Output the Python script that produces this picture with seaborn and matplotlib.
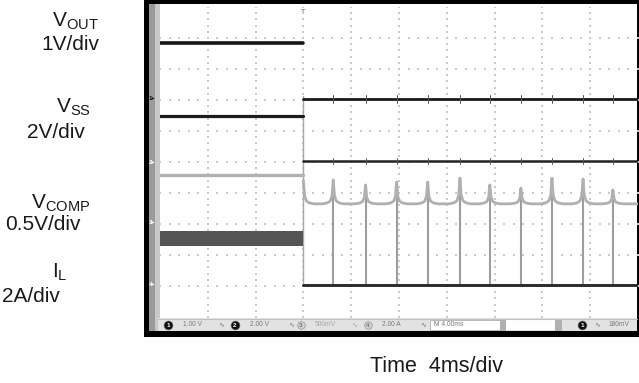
import numpy as np
import pandas as pd
import matplotlib
matplotlib.use("Agg")
import matplotlib.pyplot as plt
import seaborn as sns
from matplotlib.patches import Rectangle

# ---------------- data (screen divisions, time in ms) ----------------
ms_per_div = 4
n_hdiv = 10
n_vdiv = 10
t_fault = 12.0                      # moment the converter shuts down
spike_times = [14.5, 17.2, 19.8, 22.4, 25.1, 27.6, 30.2, 32.8, 35.4, 37.9]
spike_peaks = [4.42, 4.26, 4.35, 4.35, 4.48, 4.26, 4.16, 4.48, 4.45, 4.10]
vout_levels = [8.84, 7.03]          # before / after fault
vss_levels = [6.48, 5.03]
vcomp_levels = [4.58, 3.65]
vcomp_start_peak = 4.40
il_band = [2.29, 2.77]              # switching current band before fault
il_after = 1.03
cusp_offsets = [-0.9, -0.5, -0.25, -0.1, 0.0, 0.1, 0.25, 0.5, 0.9]
cusp_shape = [0.0, 0.04, 0.12, 0.35, 1.0, 0.35, 0.12, 0.04, 0.0]
decay_offsets = [0.0, 0.1, 0.25, 0.5, 0.9]
decay_shape = [1.0, 0.35, 0.12, 0.04, 0.0]

channel_labels = [r"$\mathregular{V_{OUT}}$", r"$\mathregular{V_{SS}}$",
                  r"$\mathregular{V_{COMP}}$", r"$\mathregular{I_{L}}$"]
scale_labels = ["1V/div", "2V/div", "0.5V/div", "2A/div"]
x_label = "Time  4ms/div"

# ---------------- style ----------------
sns.set_theme(style="white")
plt.rcParams['font.family'] = ['Liberation Sans', 'DejaVu Sans']
plt.rcParams['mathtext.fontset'] = 'custom'
plt.rcParams['mathtext.rm'] = 'Liberation Sans'

W, H = 639, 383
fig = plt.figure(figsize=(W / 100, H / 100), dpi=100)

# background layer in pixel coordinates (scope bezel, labels)
bg = fig.add_axes([0, 0, 1, 1])
bg.set_xlim(0, W)
bg.set_ylim(H, 0)
bg.axis('off')
bg.add_patch(Rectangle((144, 0), 495, 337, color='black', lw=0))
bg.add_patch(Rectangle((149, 4), 6, 327, color='#9a9a9a', lw=0))
bg.add_patch(Rectangle((155, 4), 5, 327, color='#c8c8c8', lw=0))
bg.add_patch(Rectangle((160, 4), 477, 315, color='white', lw=0))
# status bar
bg.add_patch(Rectangle((158, 318), 479, 13, color='#e2e2e2', lw=0))
bg.plot([158, 637], [318.5, 318.5], color='#c0c0c0', lw=0.8)
bg.add_patch(Rectangle((430, 320), 70, 10, facecolor='white', edgecolor='#b0b0b0', lw=0.6))
bg.add_patch(Rectangle((500, 319), 6, 12, color='#b0b0b0', lw=0))
bg.add_patch(Rectangle((506, 320), 49, 10, color='white', lw=0))
bg.add_patch(Rectangle((555, 319), 7, 12, color='#b0b0b0', lw=0))

def chip(x, y, num, dark=True):
    bg.scatter([x], [y], s=42 if dark else 30, color='#111111' if dark else '#cfcfcf',
               edgecolors='#888888', linewidths=0.4, zorder=5)
    bg.text(x, y + 0.3, num, fontsize=4.5, color='white' if dark else '#777777',
            ha='center', va='center', zorder=6, fontweight='bold')

stat_col = '#7a7a7a'
chip(168, 325, '1')
bg.text(183, 325, '1.00 V', fontsize=4.8, color=stat_col, va='center')
bg.text(218, 325, '∿', fontsize=5, color=stat_col, va='center')
chip(235, 325, '2')
bg.text(250, 325, '2.00 V', fontsize=4.8, color=stat_col, va='center')
bg.text(288, 325, '∿', fontsize=5, color=stat_col, va='center')
chip(301, 325, '3', dark=False)
bg.text(315, 325, '500mV', fontsize=4.8, color='#a8a8a8', va='center')
bg.text(351, 325, '∿', fontsize=5, color='#a8a8a8', va='center')
chip(368, 325, '4', dark=False)
bg.text(382, 325, '2.00 A', fontsize=4.8, color=stat_col, va='center')
bg.text(420, 325, '∿', fontsize=5, color=stat_col, va='center')
bg.text(434, 325, 'M 4.00ms', fontsize=4.8, color=stat_col, va='center')
chip(582, 325, '1')
bg.text(594, 325, '∿', fontsize=5, color=stat_col, va='center')
bg.text(609, 325, '180mV', fontsize=4.8, color=stat_col, va='center')

# channel ground markers on the left strip
bg.text(152, 99, '1▸', fontsize=4.5, color='#111111', ha='center', va='center', fontweight='bold')
bg.text(152, 162, '2▸', fontsize=4.5, color='white', ha='center', va='center', fontweight='bold')
bg.text(152, 223, '3▸', fontsize=4.5, color='white', ha='center', va='center', fontweight='bold')
bg.text(152, 285, '4▸', fontsize=4.5, color='white', ha='center', va='center', fontweight='bold')

# left-hand channel labels
name_pos = [(75, 21), (73, 107), (61, 203), (60, 272)]
scale_pos = [(70, 44), (56, 132), (43, 225), (31, 297)]
for lab, (x, y) in zip(channel_labels, name_pos):
    bg.text(x, y, lab, fontsize=15, color='#1a1a1a', ha='center', va='center')
for lab, (x, y) in zip(scale_labels, scale_pos):
    bg.text(x, y, lab, fontsize=15, color='#1a1a1a', ha='center', va='center')
bg.text(437, 366, x_label, fontsize=15.5, color='#1a1a1a', ha='center', va='center')

# ---------------- scope screen ----------------
t_max = ms_per_div * n_hdiv
ax = fig.add_axes([160 / W, (H - 317) / H, 478 / W, 310 / H])
ax.set_xlim(0, t_max)
ax.set_ylim(0, n_vdiv)
ax.set_facecolor('none')
ax.axis('off')

# dotted graticule
gx, gy = [], []
for i in range(1, n_hdiv):
    for k in range(0, n_vdiv * 5 + 1):
        gx.append(i * ms_per_div)
        gy.append(k * 0.2)
for j in range(1, n_vdiv):
    for m in range(0, n_hdiv * 5 + 1):
        gx.append(m * ms_per_div / 5)
        gy.append(j)
ax.scatter(gx, gy, s=0.7, color='#cacaca', marker='s', linewidths=0, zorder=1)

def trace(x, y, color, lw, z=3):
    sns.lineplot(x=x, y=y, ax=ax, color=color, linewidth=lw, estimator=None,
                 sort=False, legend=False, zorder=z)

# transition edge
trace([t_fault, t_fault], [vout_levels[1] + 0.1, il_after], '#a8a8a8', 1.0, 2)

# V_OUT
trace([0, t_fault], [vout_levels[0]] * 2, '#151515', 2.6)
trace([t_fault, t_max], [vout_levels[1]] * 2, '#1a1a1a', 2.0)
# V_SS
trace([0, t_fault], [vss_levels[0]] * 2, '#1c1c1c', 2.3)
trace([t_fault, t_max], [vss_levels[1]] * 2, '#222222', 1.8)
for ts in spike_times:
    trace([ts, ts], [vout_levels[1] - 0.12, vout_levels[1] + 0.12], '#555555', 0.7)
    trace([ts, ts], [vss_levels[1] - 0.08, vss_levels[1] + 0.1], '#555555', 0.7)

# I_L
ax.fill_between([0, t_fault], il_band[0], il_band[1], color='#555555', lw=0, zorder=3)
for ts, pk in zip(spike_times, spike_peaks):
    trace([ts, ts], [il_after, pk], '#9d9d9d', 1.5, 2)
trace([t_fault, t_max], [il_after] * 2, '#2a2a2a', 2.1)

# V_COMP
trace([0, t_fault], [vcomp_levels[0]] * 2, '#b2b2b2', 2.4)
base = vcomp_levels[1]
cx = [t_fault + o for o in decay_offsets]
cy = [base + s * (vcomp_start_peak - base) for s in decay_shape]
for ts, pk in zip(spike_times, spike_peaks):
    cx += [ts + o for o in cusp_offsets]
    cy += [base + s * (pk - base) for s in cusp_shape]
cx.append(t_max)
cy.append(base)
trace(cx, cy, '#b0b0b0', 2.0)

# trigger marker
bg.text(303, 13, 'T', fontsize=5, color='#8a8a8a', ha='center', va='center', fontweight='bold')

fig.savefig('out.png', dpi=100)
